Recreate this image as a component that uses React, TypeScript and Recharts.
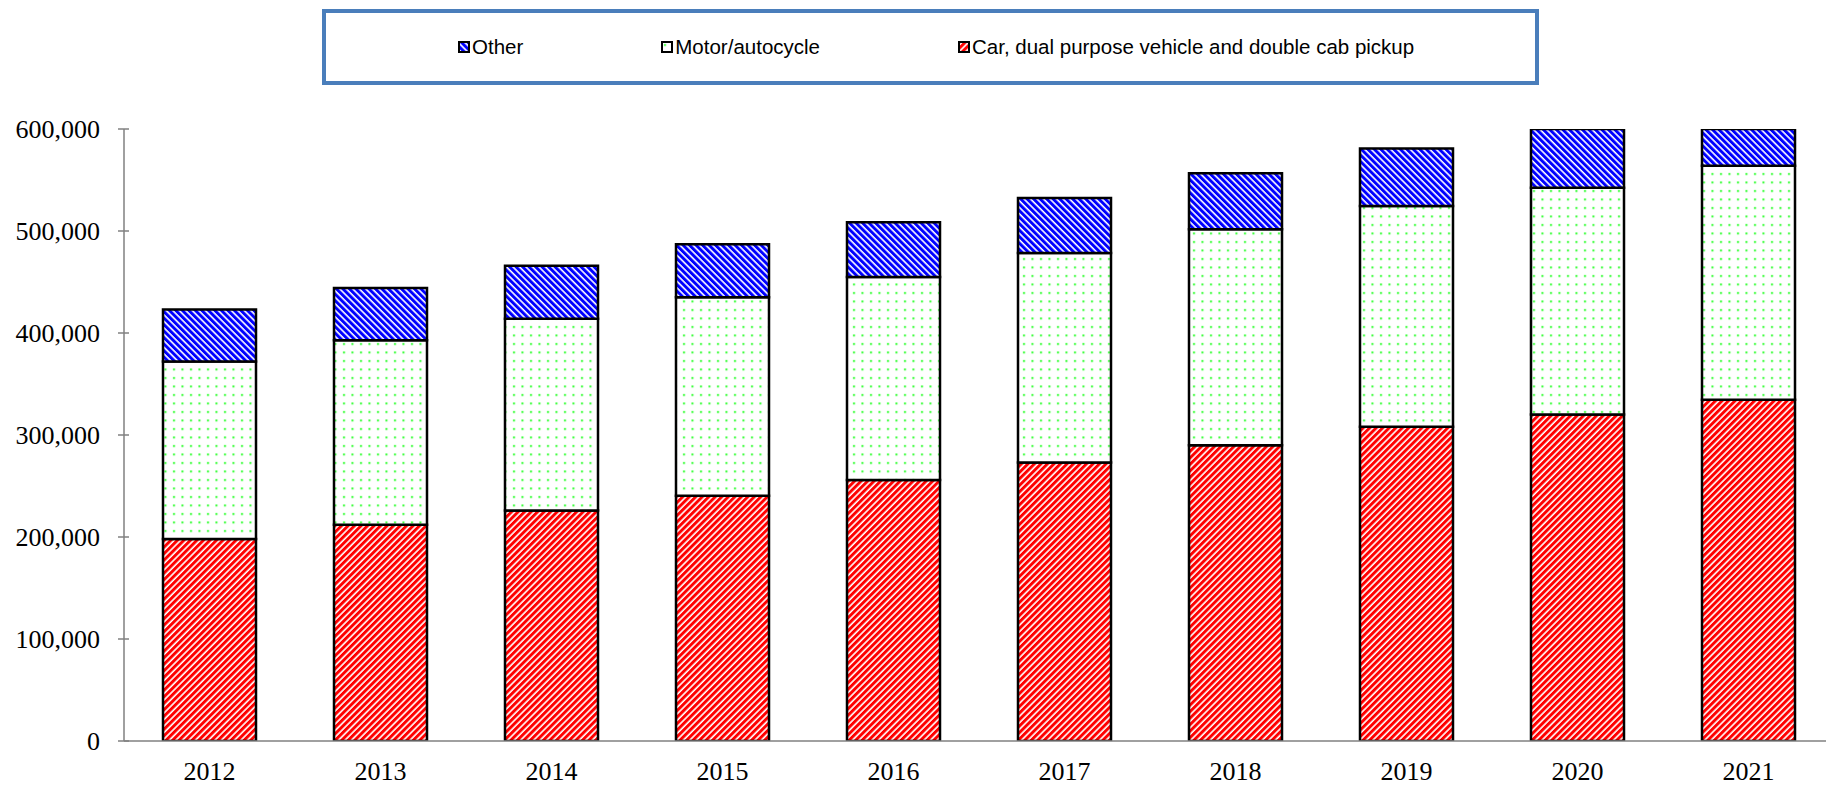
import { Bar, BarChart, Legend, XAxis, YAxis } from "recharts";

const years = ["2012", "2013", "2014", "2015", "2016", "2017", "2018", "2019", "2020", "2021"];
const carValues = [198000, 212000, 226000, 240500, 256000, 273000, 290000, 308000, 320000, 334600];
const motorValues = [174000, 181000, 188000, 194500, 199000, 205400, 211600, 216500, 222500, 229400];
const otherValues = [51000, 51000, 52000, 52000, 53500, 54000, 55000, 56500, 58000, 59000];
const yTicks = [0, 100000, 200000, 300000, 400000, 500000, 600000];

const seriesNames = {
  car: "Car, dual purpose vehicle and double cab pickup",
  motor: "Motor/autocycle",
  other: "Other",
};
const legendOrder = ["other", "motor", "car"];

const data = years.map((year, i) => ({
  year,
  car: carValues[i],
  motor: motorValues[i],
  other: otherValues[i],
}));

const fills: Record<string, string> = {
  car: "url(#redStripes)",
  motor: "url(#greenDots)",
  other: "url(#blueStripes)",
};

const serif = "'Liberation Serif', 'Times New Roman', serif";
const sans = "'Liberation Sans', Arial, sans-serif";

function YTick(props: any) {
  const { x, y, payload } = props;
  const axisX = x + 24;
  return (
    <g>
      <line x1={axisX - 6} x2={axisX + 5} y1={y} y2={y} stroke="#808080" strokeWidth={1.5} />
      <text x={x} y={y} dy="0.35em" textAnchor="end" fontFamily={serif} fontSize={26} fill="#000">
        {Number(payload.value).toLocaleString("en-US")}
      </text>
    </g>
  );
}

function renderLegend(props: any) {
  const payload = props.payload || [];
  const items = legendOrder
    .map((key) => payload.find((p: any) => p.dataKey === key))
    .filter(Boolean);
  return (
    <div
      style={{
        boxSizing: "border-box",
        width: 1217,
        height: 76,
        border: "4px solid #4A7EBB",
        display: "flex",
        alignItems: "center",
        paddingLeft: 132,
        gap: 138,
        fontFamily: sans,
        fontSize: 20.5,
        color: "#000",
      }}
    >
      {items.map((item: any) => (
        <div key={item.dataKey} style={{ display: "flex", alignItems: "center" }}>
          <svg width={13} height={13} style={{ marginRight: 1 }}>
            <rect x={1} y={1} width={10} height={10} fill={fills[item.dataKey]} stroke="#000" strokeWidth={2} />
          </svg>
          <span>{seriesNames[item.dataKey as keyof typeof seriesNames]}</span>
        </div>
      ))}
    </div>
  );
}

export default function App() {
  return (
    <div style={{ position: "absolute", left: 0, top: 0, width: 1826, height: 787, overflow: "hidden", background: "#fff" }}>
      <BarChart
        width={1834}
        height={787}
        data={data}
        margin={{ top: 129, right: 0, bottom: 0, left: 0 }}
        barSize={93}
      >
        <defs>
          <pattern id="redStripes" width={4.6} height={4.6} patternUnits="userSpaceOnUse" patternTransform="rotate(45)">
            <rect width={4.6} height={4.6} fill="#fff" />
            <rect width={3} height={4.6} fill="#ff0000" />
          </pattern>
          <pattern id="blueStripes" width={4.6} height={4.6} patternUnits="userSpaceOnUse" patternTransform="rotate(-45)">
            <rect width={4.6} height={4.6} fill="#fff" />
            <rect width={3} height={4.6} fill="#0000ff" />
          </pattern>
          <pattern id="greenDots" width={8.5} height={8.5} patternUnits="userSpaceOnUse">
            <rect width={8.5} height={8.5} fill="#fff" />
            <rect x={3} y={3} width={2} height={2} fill="#33ff33" />
          </pattern>
        </defs>
        <XAxis
          dataKey="year"
          height={46}
          tickLine={false}
          tickMargin={15}
          axisLine={{ stroke: "#808080", strokeWidth: 1.5 }}
          tick={{ fontFamily: serif, fontSize: 26, fill: "#000" }}
        />
        <YAxis
          width={124}
          domain={[0, 600000]}
          allowDataOverflow
          ticks={yTicks}
          interval={0}
          tickLine={false}
          tickSize={0}
          tickMargin={24}
          axisLine={{ stroke: "#808080", strokeWidth: 1.5 }}
          tick={<YTick />}
        />
        <Legend
          layout="horizontal"
          verticalAlign="middle"
          align="center"
          content={renderLegend}
          wrapperStyle={{ left: 322, top: 9, width: 1217, height: 76 }}
        />
        <Bar dataKey="car" name={seriesNames.car} stackId="a" fill={fills.car} stroke="#000" strokeWidth={2.5} isAnimationActive={false} />
        <Bar dataKey="motor" name={seriesNames.motor} stackId="a" fill={fills.motor} stroke="#000" strokeWidth={2.5} isAnimationActive={false} />
        <Bar dataKey="other" name={seriesNames.other} stackId="a" fill={fills.other} stroke="#000" strokeWidth={2.5} isAnimationActive={false} />
      </BarChart>
    </div>
  );
}
